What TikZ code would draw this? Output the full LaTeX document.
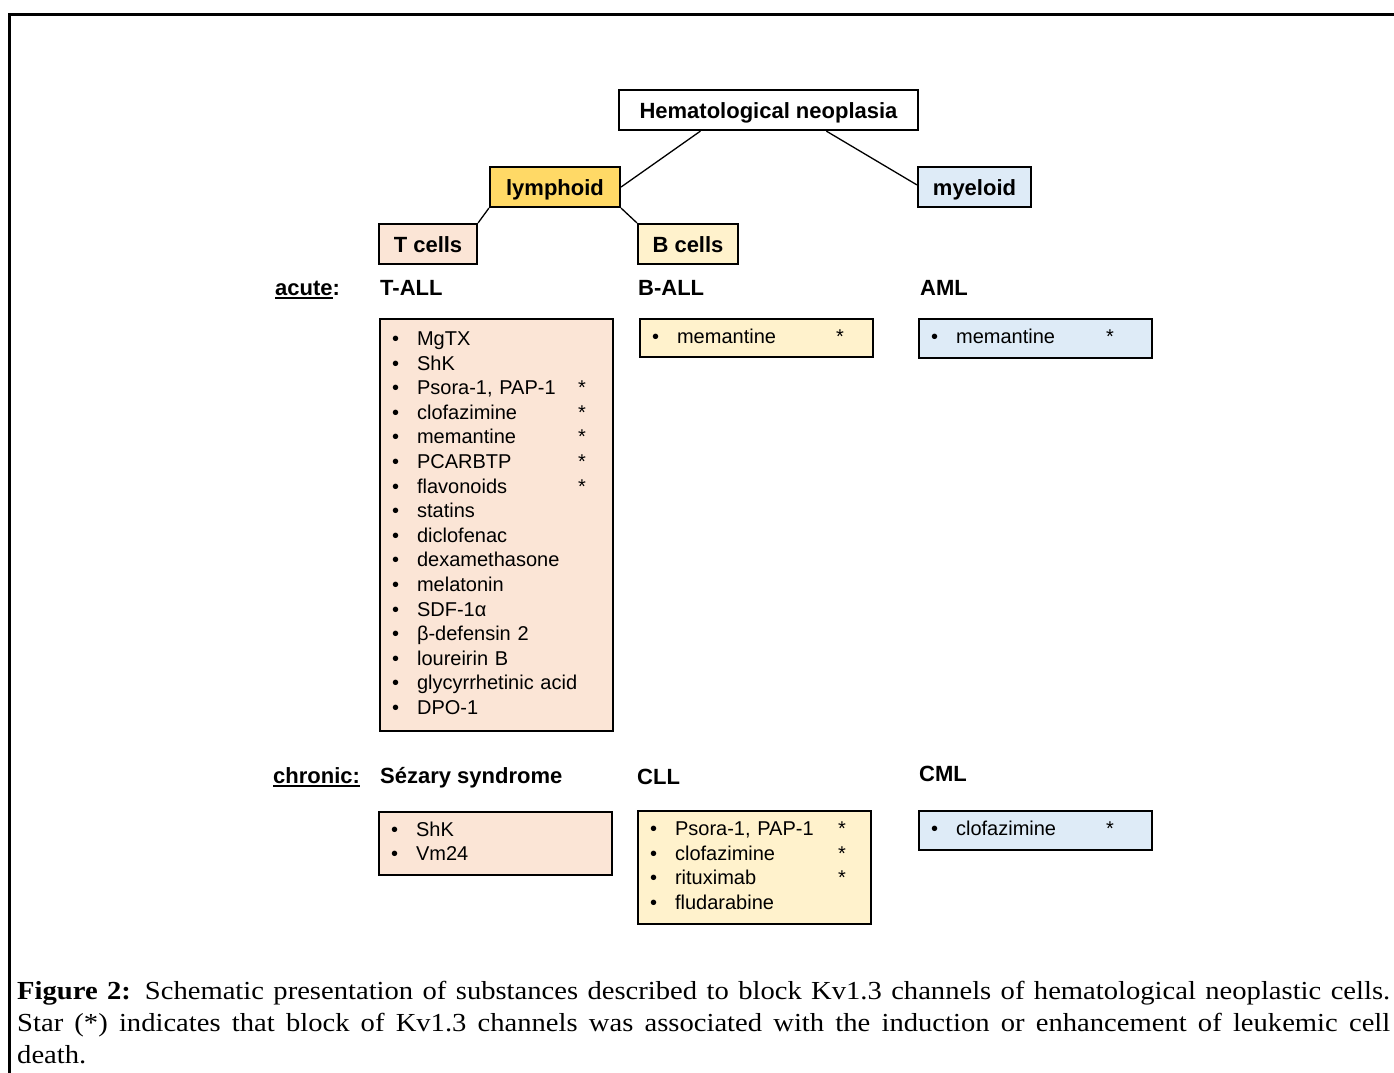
\documentclass[tikz,border=0pt]{standalone}
\usepackage{fontspec}
\setmainfont{Liberation Serif}
\setsansfont{Liberation Sans}
\newfontfamily\capfont[FakeStretch=1.1]{Liberation Serif}
\usetikzlibrary{calc}
\definecolor{peach}{HTML}{FBE5D6}
\definecolor{paleyel}{HTML}{FFF2CC}
\definecolor{paleblue}{HTML}{DEEBF7}
\definecolor{gold}{HTML}{FFD966}
\newcommand\bx[3]{\begin{tabular}{@{\hspace{12pt}}p{25pt}@{}p{#1}@{}l@{}}#3\end{tabular}}
\newcommand\litem[2]{\textbullet & #1 & #2\\}
\newcommand\ulin[1]{\setbox0\hbox{#1}\rlap{\rule[-3.5pt]{\wd0}{1.8pt}}\box0}
\begin{document}
\begin{tikzpicture}[x=1pt,y=-1pt,
  hbox/.style={draw, line width=2.2pt, font=\sffamily\bfseries\fontsize{22}{26}\selectfont, inner sep=0pt, minimum height=40pt, text height=16pt, text depth=0pt},
  head/.style={font=\sffamily\bfseries\fontsize{22}{26}\selectfont, inner sep=0pt, anchor=base west},
  lbox/.style={draw, line width=2.2pt, anchor=north west, inner sep=0pt, text width=233pt, align=left, font=\sffamily\fontsize{20}{24.6}\selectfont},
  conn/.style={line width=1.3pt}]
\useasboundingbox (0,0) rectangle (1394,1072);
\coordinate (fa) at (9,1090);
\coordinate (fb) at (1410,14);
\draw[line width=3pt] (fa) |- (fb);
% hierarchy
\node[hbox, minimum width=299pt] (root) at (768.5,110) {Hematological neoplasia};
\node[hbox, fill=gold, minimum width=130pt] (lym) at (555,187) {lymphoid};
\node[hbox, fill=paleblue, minimum width=113pt] (mye) at (974.5,187) {myeloid};
\node[hbox, fill=peach, minimum width=98pt] (tc) at (428,244) {T cells};
\node[hbox, fill=paleyel, minimum width=100pt] (bc) at (688,244) {B cells};
\draw[conn] ($(root.south west)!0.274!(root.south east)$) -- (lym.east);
\draw[conn] ($(root.south west)!0.692!(root.south east)$) -- ($(mye.north west)!0.45!(mye.south west)$);
\draw[conn] (lym.south west) -- (tc.north east);
\draw[conn] (lym.south east) -- (bc.north west);
% headings
\node[head] (acute) at (275,295) {\ulin{acute}:};
\node[head] (tall) at (380,295) {T-ALL};
\node[head] (ball) at (638,295) {B-ALL};
\node[head] (aml) at (920,295) {AML};
\node[head] (chronic) at (273,783) {\ulin{chronic:}};
\node[head] (sez) at (380,783) {Sézary syndrome};
\node[head] (cll) at (637,784) {CLL};
\node[head] (cml) at (919,781) {CML};
% lists
\node[lbox, fill=peach, minimum height=412pt] (tlist) at (379,318) {\bx{161pt}{}{%
\litem{MgTX}{}\litem{ShK}{}\litem{Psora-1, PAP-1}{*}\litem{clofazimine}{*}\litem{memantine}{*}%
\litem{PCARBTP}{*}\litem{flavonoids}{*}\litem{statins}{}\litem{diclofenac}{}\litem{dexamethasone}{}%
\litem{melatonin}{}\litem{SDF-1α}{}\litem{β-defensin 2}{}\litem{loureirin B}{}%
\litem{glycyrrhetinic acid}{}\litem{DPO-1}{}}};
\node[lbox, fill=paleyel, minimum height=38pt] (blist) at (639,318) {\bx{159pt}{}{\litem{memantine}{*}}};
\node[lbox, fill=paleblue, minimum height=39pt] (alist) at (918,318) {\bx{150pt}{}{\litem{memantine}{*}}};
\node[lbox, fill=peach, minimum height=63pt] (slist) at (378,811) {\bx{160pt}{}{\litem{ShK}{}\litem{Vm24}{}}};
\node[lbox, fill=paleyel, minimum height=113pt] (clist) at (637,810) {\bx{163pt}{}{%
\litem{Psora-1, PAP-1}{*}\litem{clofazimine}{*}\litem{rituximab}{*}\litem{fludarabine}{}}};
\node[lbox, fill=paleblue, minimum height=39pt] (mlist) at (918,810) {\bx{150pt}{}{\litem{clofazimine}{*}}};
% caption
\node[anchor=north west, inner sep=0pt, text width=1373pt, align=justify,
  font=\capfont\fontsize{26}{32}\selectfont] (cap) at (17,981)
 {\textbf{Figure 2:} Schematic presentation of substances described to block Kv1.3 channels of hematological neoplastic cells.\linebreak
 Star (*) indicates that block of Kv1.3 channels was associated with the induction or enhancement of leukemic cell\linebreak death.};
\end{tikzpicture}
\end{document}
